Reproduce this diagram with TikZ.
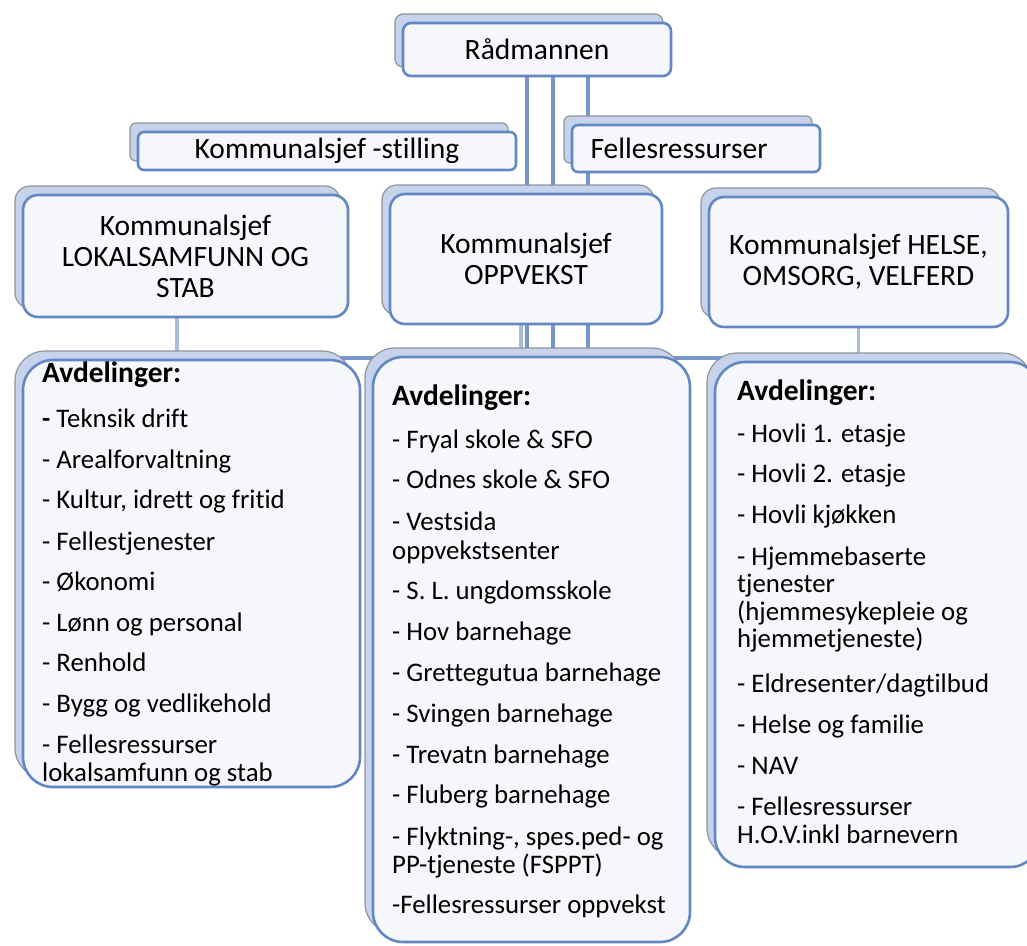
\documentclass[tikz,border=0pt]{standalone}
\usepackage{fontspec}
\setmainfont{Carlito}[Ligatures=NoCommon]
\usetikzlibrary{shadows}
\pgfdeclarelayer{background}
\pgfsetlayers{background,main}
\definecolor{frontdraw}{RGB}{98,135,195}
\definecolor{frontfill}{RGB}{245,247,251}
\definecolor{backfill}{RGB}{198,211,235}
\definecolor{backdraw}{RGB}{145,148,155}
\definecolor{conncol}{RGB}{116,150,202}
\definecolor{connlt}{RGB}{168,188,222}
\tikzset{
  box/.style={draw=frontdraw, line width=2.6pt, fill=frontfill, rounded corners=#1,
    inner sep=0pt, text=black,
    general shadow={shadow xshift=-8pt, shadow yshift=9pt, fill=backfill, draw=backdraw, line width=1.2pt}},
  head/.style={font=\fontsize{29.5}{31}\selectfont, align=center},
  item/.style={anchor=base west, inner sep=0pt, font=\fontsize{26.8}{28}\selectfont},
  itemhead/.style={anchor=base west, inner sep=0pt, font=\fontsize{29.5}{28}\selectfont\bfseries},
  conn/.style={draw=conncol, line width=3.4pt},
  connlight/.style={draw=connlt, line width=3.4pt},
}
\begin{document}
\begin{tikzpicture}[x=1pt,y=-1pt]
\useasboundingbox (0,0) rectangle (1027,945);
% top boxes
\node[box=8pt, head, minimum width=268pt, minimum height=53pt] (rad) at (537,49.5) {Rådmannen};
\node[box=6pt, head, minimum width=378pt, minimum height=38pt] (stil) at (327,151) {Kommunalsjef -stilling};
\node[box=6pt, head, minimum width=248pt, minimum height=47pt] (fel) at (696,148.5) {Fellesressurser\hspace*{34pt}};
% chiefs
\node[box=15pt, head, minimum width=325pt, minimum height=122pt] (lok) at (185.5,256) {Kommunalsjef\\LOKALSAMFUNN OG\\STAB};
\node[box=15pt, head, minimum width=272pt, minimum height=130pt] (opp) at (526,259) {Kommunalsjef\\OPPVEKST};
\node[box=15pt, head, minimum width=299pt, minimum height=130pt] (hel) at (858.5,262) {Kommunalsjef HELSE,\\OMSORG, VELFERD};
% departments
\node[box=30pt, minimum width=337pt, minimum height=427pt] (avdL) at (191.5,573.5) {};
\node[box=30pt, minimum width=317pt, minimum height=585pt] (avdM) at (531.5,649.5) {};
\node[box=30pt, minimum width=325pt, minimum height=505pt] (avdR) at (877.5,614.5) {};
% connectors
\coordinate (hubL) at ([xshift=-8.5pt]lok.south |- 0,358);
\coordinate (hubR) at (hel.south |- 0,358);
\begin{pgfonlayer}{background}
\draw[conn] ([xshift=-10pt]rad.south) -- ([xshift=-10pt]rad.south |- avdM.north);
\draw[conn] ([xshift=16pt]rad.south) -- ([xshift=16pt]rad.south |- avdM.north);
\draw[conn] ([xshift=51pt]rad.south) -- ([xshift=51pt]rad.south |- avdM.north);
\draw[connlight] ([xshift=-5pt]opp.south) -- ([xshift=-5pt]opp.south |- avdM.north);
\draw[conn] (hubL) -- (hubR);
\draw[connlight] ([xshift=-8.5pt]lok.south) -- (hubL);
\draw[connlight] (hel.south) -- (hubR);
\end{pgfonlayer}
% left list
\node[itemhead] (l0) at (42,382) {Avdelinger:};
\node[item] (l1) at (42,427) {{\bfseries -} Teknsik drift};
\node[item] (l2) at (42,468) {- Arealforvaltning};
\node[item] (l3) at (42,508) {- Kultur, idrett og fritid};
\node[item] (l4) at (42,550) {- Fellestjenester};
\node[item] (l5) at (42,590) {- Økonomi};
\node[item] (l6) at (42,631) {- Lønn og personal};
\node[item] (l7) at (42,671) {- Renhold};
\node[item] (l8) at (42,712) {- Bygg og vedlikehold};
\node[item] (l9) at (42,753) {- Fellesressurser};
\node[item] (l10) at (42,781) {lokalsamfunn og stab};
% middle list
\node[itemhead] (m0) at (392,405) {Avdelinger:};
\node[item] (m1) at (392,448) {- Fryal skole \& SFO};
\node[item] (m2) at (392,488) {- Odnes skole \& SFO};
\node[item] (m3) at (392,530) {- Vestsida};
\node[item] (m4) at (392,559) {oppvekstsenter};
\node[item] (m5) at (392,599) {- S. L. ungdomsskole};
\node[item] (m6) at (392,640) {- Hov barnehage};
\node[item] (m7) at (392,681) {- Grettegutua barnehage};
\node[item] (m8) at (392,722) {- Svingen barnehage};
\node[item] (m9) at (392,763) {- Trevatn barnehage};
\node[item] (m10) at (392,803) {- Fluberg barnehage};
\node[item] (m11) at (392,845) {- Flyktning-, spes.ped- og};
\node[item] (m12) at (392,873) {PP-tjeneste (FSPPT)};
\node[item] (m13) at (392,913) {-Fellesressurser oppvekst};
% right list
\node[itemhead] (r0) at (737,400) {Avdelinger:};
\node[item] (r1) at (737,442) {- Hovli 1. etasje};
\node[item] (r2) at (737,482) {- Hovli 2. etasje};
\node[item] (r3) at (737,523) {- Hovli kjøkken};
\node[item] (r4) at (737,565) {- Hjemmebaserte};
\node[item] (r5) at (737,592) {tjenester};
\node[item] (r6) at (737,620) {(hjemmesykepleie og};
\node[item] (r7) at (737,647) {hjemmetjeneste)};
\node[item] (r8) at (737,692) {- Eldresenter/dagtilbud};
\node[item] (r9) at (737,733) {- Helse og familie};
\node[item] (r10) at (737,774) {- NAV};
\node[item] (r11) at (737,815) {- Fellesressurser};
\node[item] (r12) at (737,843) {H.O.V.inkl barnevern};
\end{tikzpicture}
\end{document}
